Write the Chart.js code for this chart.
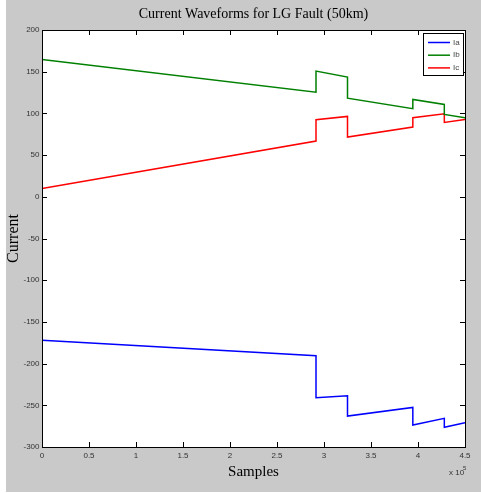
<!DOCTYPE html>
<html>
<head>
<meta charset="utf-8">
<script src="https://cdn.jsdelivr.net/npm/chart.js@4/dist/chart.umd.min.js"></script>
<style>
  html, body { margin: 0; padding: 0; background: #ffffff; }
  #wrap { width: 481px; height: 493px; }
</style>
</head>
<body>
<div id="wrap"><canvas id="c" width="481" height="493"></canvas></div>
<script>
// ---- data ----
const samples = [0, 291500, 291500, 325000, 325000, 394500, 394500, 428000, 428000, 450000];
const Ia = [-172, -190.6, -241, -238.6, -262.9, -252.5, -273.7, -265.6, -276.4, -270.9];
const Ib = [164.7, 125.5, 150.7, 143.5, 118.3, 105.6, 116.8, 110.8, 98.8, 94.8];
const Ic = [9.8, 66.8, 92.4, 96.4, 71.6, 83.6, 94.8, 99.6, 89.2, 92.8];
const seriesNames = ['Ia', 'Ib', 'Ic'];
const seriesColors = ['#0000ff', '#008000', '#ff0000'];
const xTicks = [0, 50000, 100000, 150000, 200000, 250000, 300000, 350000, 400000, 450000];
const yTicks = [-300, -250, -200, -150, -100, -50, 0, 50, 100, 150, 200];

const toPts = (ys) => samples.map((x, i) => ({ x: x, y: ys[i] }));
const seriesValues = [Ia, Ib, Ic];

const tickFont = { family: '"Liberation Sans", Arial, sans-serif', size: 8 };

const matlabPlugin = {
  id: 'matlab',
  beforeDraw(chart) {
    const ctx = chart.ctx;
    const a = chart.chartArea;
    ctx.save();
    ctx.fillStyle = '#ffffff';
    ctx.fillRect(0, 0, chart.width, chart.height);
    ctx.fillStyle = '#c9c9c9';
    ctx.fillRect(6, 0, chart.width - 6, 492);
    ctx.fillStyle = '#ffffff';
    ctx.fillRect(a.left, a.top, a.right - a.left, a.bottom - a.top);
    ctx.restore();
  },
  afterDraw(chart) {
    const ctx = chart.ctx;
    const a = chart.chartArea;
    const xs = chart.scales.x, ys = chart.scales.y;
    ctx.save();
    ctx.strokeStyle = '#000000';
    ctx.lineWidth = 1;
    // inward tick marks on all four sides
    ctx.beginPath();
    xTicks.forEach(v => {
      const px = Math.round(xs.getPixelForValue(v)) + 0.5;
      ctx.moveTo(px, a.top); ctx.lineTo(px, a.top + 5);
      ctx.moveTo(px, a.bottom); ctx.lineTo(px, a.bottom - 5);
    });
    yTicks.forEach(v => {
      const py = Math.round(ys.getPixelForValue(v)) + 0.5;
      ctx.moveTo(a.left, py); ctx.lineTo(a.left + 5, py);
      ctx.moveTo(a.right, py); ctx.lineTo(a.right - 5, py);
    });
    ctx.stroke();
    // frame
    ctx.strokeRect(Math.round(a.left) + 0.5, Math.round(a.top) + 0.5,
                   Math.round(a.right - a.left), Math.round(a.bottom - a.top));
    // exponent label
    ctx.fillStyle = '#333333';
    ctx.font = '8px "Liberation Sans", Arial, sans-serif';
    ctx.textBaseline = 'alphabetic';
    ctx.textAlign = 'left';
    ctx.fillText('x 10', 449, 475);
    ctx.font = '6px "Liberation Sans", Arial, sans-serif';
    ctx.fillText('5', 463, 470);
    // legend box
    const lx = 423, ly = 33, lw = 40, lh = 42;
    ctx.fillStyle = '#ffffff';
    ctx.fillRect(lx, ly, lw, lh);
    ctx.strokeStyle = '#000000';
    ctx.strokeRect(lx + 0.5, ly + 0.5, lw, lh);
    chart.data.datasets.forEach((ds, i) => {
      const y = 42.5 + i * 12.7;
      ctx.strokeStyle = ds.borderColor;
      ctx.lineWidth = 1.5;
      ctx.beginPath();
      ctx.moveTo(428, y); ctx.lineTo(450, y);
      ctx.stroke();
      ctx.fillStyle = '#444444';
      ctx.font = '8px "Liberation Sans", Arial, sans-serif';
      ctx.textBaseline = 'middle';
      ctx.fillText(ds.label, 453, y);
    });
    ctx.restore();
  }
};

new Chart(document.getElementById('c'), {
  type: 'line',
  data: {
    datasets: seriesValues.map((vals, i) => ({
      label: seriesNames[i],
      data: toPts(vals),
      borderColor: seriesColors[i],
      backgroundColor: seriesColors[i],
      borderWidth: 1.5,
      pointRadius: 0,
      tension: 0,
      fill: false
    }))
  },
  options: {
    responsive: false,
    animation: false,
    devicePixelRatio: 1,
    layout: { padding: { left: 0, right: 16, top: 0, bottom: 0 } },
    plugins: {
      legend: { display: false },
      tooltip: { enabled: false },
      title: {
        display: true,
        fullSize: false,
        text: 'Current Waveforms for LG Fault (50km)',
        color: '#000000',
        font: { family: '"Liberation Serif", "Times New Roman", serif', size: 14, weight: 'normal' },
        padding: { top: 6, bottom: 7.2 }
      }
    },
    scales: {
      x: {
        type: 'linear',
        min: 0,
        max: 450000,
        afterFit(scale) { scale.height = 46; },
        afterBuildTicks(scale) { scale.ticks = xTicks.map(v => ({ value: v })); },
        ticks: {
          color: '#333333',
          font: tickFont,
          padding: 4,
          maxRotation: 0,
          autoSkip: false,
          callback: (v) => String(v / 100000)
        },
        grid: { display: false, drawTicks: false, tickLength: 0 },
        border: { display: true, color: '#000000', width: 1 },
        title: {
          display: true,
          text: 'Samples',
          color: '#000000',
          font: { family: '"Liberation Serif", "Times New Roman", serif', size: 15 },
          padding: { top: 0, bottom: 12 }
        }
      },
      y: {
        type: 'linear',
        min: -300,
        max: 200,
        afterFit(scale) { scale.width = 42; },
        afterBuildTicks(scale) { scale.ticks = yTicks.map(v => ({ value: v })); },
        ticks: {
          color: '#333333',
          font: tickFont,
          padding: 2.5,
          autoSkip: false
        },
        grid: { display: false, drawTicks: false, tickLength: 0 },
        border: { display: true, color: '#000000', width: 1 },
        title: {
          display: true,
          text: 'Current',
          color: '#000000',
          font: { family: '"Liberation Serif", "Times New Roman", serif', size: 16 },
          padding: { top: 4, bottom: 0 }
        }
      }
    }
  },
  plugins: [matlabPlugin]
});
</script>
</body>
</html>
